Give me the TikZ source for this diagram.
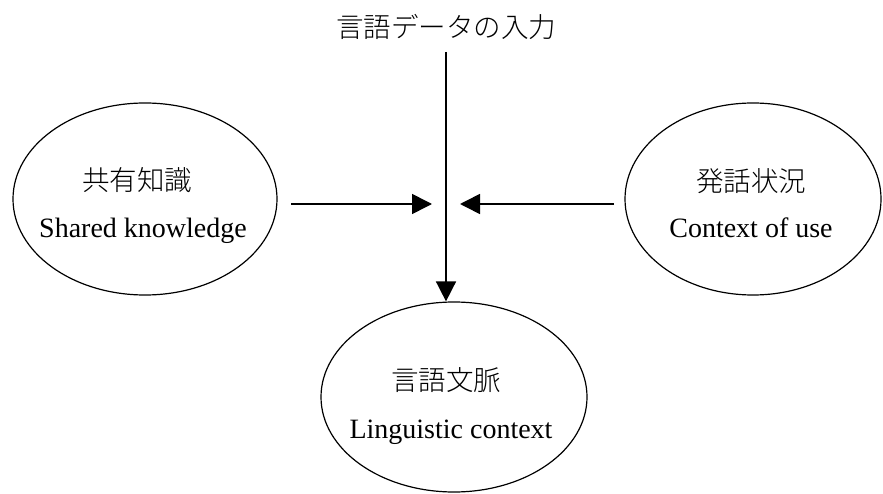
\documentclass[tikz,border=0pt]{standalone}
\usepackage{fontspec}
\setmainfont{Liberation Serif}
\newfontfamily\jp{Noto Sans CJK JP Light}
\usetikzlibrary{arrows.meta,shapes.geometric}
\begin{document}
\begin{tikzpicture}[x=1pt,y=1pt,
  oval/.style={draw, ellipse, line width=1.2pt, inner sep=0pt, minimum width=264pt, minimum height=192pt},
  lab/.style={inner sep=0pt, anchor=base, font=\fontsize{28}{34}\selectfont},
  jlab/.style={inner sep=0pt, font=\jp\fontsize{27.5}{34}\selectfont},
  arr/.style={line width=1.6pt, -{Triangle[length=20pt,width=20pt]}}]
\useasboundingbox (0,0) rectangle (883,493);
% ellipses
\node[oval] (L) at (145,294) {};
\node[oval, minimum width=256pt] (R) at (753,294) {};
\node[oval, minimum width=266pt, minimum height=190pt] (B) at (454,96) {};
% texts
\node[jlab] (Lj) at (137,313) {共有知識};
\node[lab] (Le) at (143,255) {Shared knowledge};
\node[jlab] (Rj) at (751,312) {発話状況};
\node[lab] (Re) at (751,255) {Context of use};
\node[jlab] (Bj) at (446,113) {言語文脈};
\node[lab] (Be) at (451,55) {Linguistic context};
\node[jlab] (T) at (446,466) {言語データの入力};
% connectors
\coordinate (inp) at (446,441);
\coordinate (ls) at (291,289);
\coordinate (le) at (432,289);
\coordinate (rs) at (614,289);
\coordinate (re) at (460,289);
\draw[arr] (inp) -- (inp |- B.north);
\draw[arr] (ls) -- (le);
\draw[arr] (rs) -- (re);
\end{tikzpicture}
\end{document}
